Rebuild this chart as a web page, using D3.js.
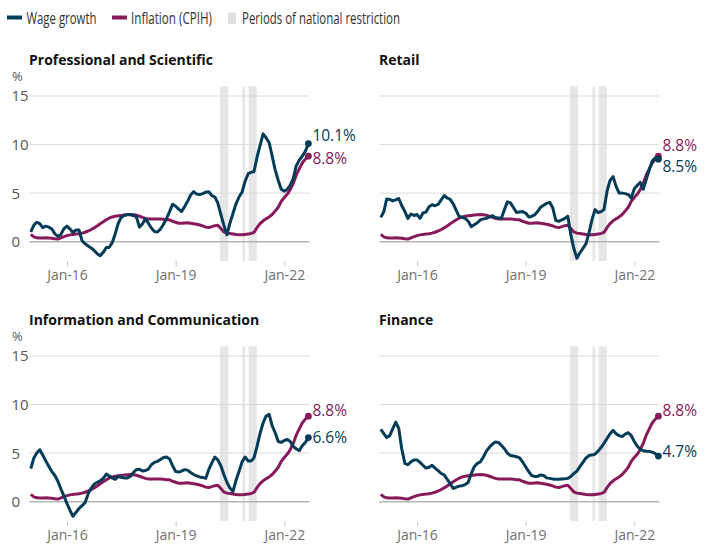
<!DOCTYPE html>
<html><head><meta charset="utf-8">
<script src="https://cdn.jsdelivr.net/npm/d3@7"></script>
<style>
body{margin:0;background:#fff;}
svg text{font-family:"Open Sans",sans-serif;}
</style></head><body>
<svg id="chart" width="726" height="560"></svg>
<script>
// ---------- data ----------
const firstMonth = "2015-01-01";
const lastMonth = "2022-09-01";
const inflation = [
  0.75,0.5,0.4,0.38,0.38,0.4,0.38,0.35,0.3,0.27,0.4,0.52,
  0.62,0.7,0.75,0.78,0.82,0.88,0.97,1.1,1.25,1.42,1.62,1.85,
  2.05,2.25,2.42,2.55,2.62,2.66,2.7,2.74,2.78,2.8,2.78,2.72,
  2.62,2.5,2.4,2.34,2.33,2.33,2.34,2.33,2.3,2.27,2.25,2.1,
  2.0,1.9,1.9,1.93,1.95,1.9,1.85,1.8,1.72,1.62,1.5,1.45,
  1.55,1.65,1.7,1.35,1.0,0.88,0.85,0.8,0.75,0.72,0.72,0.75,
  0.78,0.85,0.95,1.45,1.85,2.15,2.35,2.55,2.8,3.15,3.55,4.15,
  4.55,4.9,5.35,6.0,6.85,7.5,8.1,8.5,8.8];
const wageProfessional = [
  1.0,1.7,2.0,1.85,1.45,1.6,1.5,1.3,0.8,0.55,0.75,1.35,
  1.6,1.3,0.95,1.2,1.2,0.1,-0.2,-0.45,-0.65,-0.9,-1.25,-1.45,
  -1.1,-0.6,-0.6,-0.1,0.8,1.9,2.5,2.7,2.8,2.8,2.7,2.55,
  1.5,1.85,2.35,1.9,1.4,1.05,1.0,1.3,1.8,2.4,3.1,3.85,
  3.65,3.35,3.1,3.6,4.15,4.8,5.15,4.9,4.85,4.95,5.1,5.15,
  4.75,4.6,4.0,2.8,1.7,0.7,1.9,2.9,3.9,4.6,5.1,6.2,
  7.0,7.15,7.2,8.7,9.9,11.1,10.7,10.2,8.8,7.4,6.3,5.4,
  5.2,5.4,5.8,6.5,7.8,8.4,8.8,9.3,10.1];
const wageRetail = [
  2.5,3.1,4.4,4.35,4.2,4.3,4.45,3.7,3.1,2.4,2.85,2.7,
  2.8,2.4,2.95,3.05,3.6,3.8,3.7,3.85,4.3,4.75,4.5,4.35,
  3.9,3.2,2.6,2.5,2.4,2.1,1.55,1.75,1.95,2.25,2.35,2.4,
  2.55,2.68,2.5,2.45,2.4,3.3,4.1,4.0,3.5,3.0,3.05,3.1,
  2.95,2.55,2.6,2.75,3.1,3.55,3.75,3.95,4.05,3.5,2.2,2.1,
  2.25,2.4,2.62,0.7,-0.7,-1.7,-1.15,-0.7,-0.2,0.9,2.3,3.3,
  3.0,3.1,3.3,5.2,6.3,6.7,5.7,5.0,5.0,4.95,4.85,4.5,
  5.45,5.8,6.1,5.4,6.4,7.4,8.3,8.65,8.5];
const wageInformation = [
  3.4,4.5,5.0,5.35,4.8,4.2,3.65,3.1,2.7,2.1,1.3,0.6,
  -0.2,-0.9,-1.5,-1.1,-0.7,-0.4,-0.1,0.8,1.4,1.8,2.0,2.15,
  2.4,2.85,2.65,2.45,2.3,2.6,2.5,2.45,2.45,2.6,3.0,3.3,
  3.35,3.15,3.2,3.35,3.8,4.05,4.15,4.35,4.55,4.6,4.4,3.7,
  3.1,3.05,3.15,3.3,3.25,3.0,2.8,2.65,2.55,2.5,2.4,3.3,
  4.0,4.6,4.3,3.7,2.8,2.0,1.4,1.05,2.2,3.1,4.1,4.6,
  4.2,4.2,4.5,5.7,7.0,8.1,8.8,9.0,7.8,7.1,6.2,6.1,
  6.3,6.4,6.2,5.7,5.45,5.25,5.75,6.1,6.6];
const wageFinance = [
  7.45,7.0,6.6,6.8,7.5,8.2,7.55,5.4,3.95,3.8,4.1,4.3,
  4.3,4.05,3.75,3.45,3.55,3.75,3.45,3.2,2.9,2.75,2.3,1.85,
  1.35,1.5,1.6,1.65,1.75,2.0,2.9,3.6,3.95,4.1,4.6,5.2,
  5.6,5.95,6.15,6.1,5.8,5.45,5.0,4.75,4.7,4.63,4.5,4.1,
  3.6,3.1,2.7,2.6,2.6,2.75,2.7,2.45,2.4,2.33,2.3,2.3,
  2.33,2.35,2.4,2.6,2.9,3.15,3.6,4.05,4.5,4.75,4.8,4.9,
  5.2,5.6,6.0,6.5,7.0,7.35,7.0,6.8,6.7,6.95,7.1,6.8,
  6.2,5.7,5.4,5.25,5.2,5.18,5.1,4.95,4.7];
const panelTitles = ["Professional and Scientific","Retail","Information and Communication","Finance"];
const wageEndLabels = ["10.1%","8.5%","6.6%","4.7%"];
const inflationEndLabel = "8.8%";
const restrictionStarts = ["2020-03-23","2020-11-05","2021-01-06"];
const restrictionEnds = ["2020-06-15","2020-12-02","2021-03-29"];
const yTickValues = [0,5,10,15];
const xTickDates = ["2016-01-01","2019-01-01","2022-01-01"];
const legendLabels = ["Wage growth","Inflation (CPIH)","Periods of national restriction"];

// ---------- layout / style ----------
const C_WAGE = "#003c57", C_INF = "#871a5b", C_BAND = "#e6e6e6";
const panelOffsets = [[0,0],[350,0],[0,260],[350,260]];
// label vertical offsets (px, relative to end dot): [wage, inflation]
const labelShift = [[-8.5,2.5],[7,-11],[0,-6],[-4.6,-6]];

const wageSeries = [wageProfessional, wageRetail, wageInformation, wageFinance];
const parse = d3.utcParse("%Y-%m-%d");
const months = d3.utcMonth.range(parse(firstMonth), d3.utcMonth.offset(parse(lastMonth),1));

const x = d3.scaleUtc().domain([parse(firstMonth), parse(lastMonth)]).range([30.8, 308.4]);
const y = d3.scaleLinear().domain([-2,16]).range([261.1, 86.3]);

const svg = d3.select("#chart");

// legend
const lg = svg.append("g");
lg.append("line").attr("x1",7).attr("x2",22).attr("y1",17.5).attr("y2",17.5).attr("stroke",C_WAGE).attr("stroke-width",4);
lg.append("line").attr("x1",112).attr("x2",127).attr("y1",17.5).attr("y2",17.5).attr("stroke",C_INF).attr("stroke-width",4);
lg.append("rect").attr("x",228).attr("y",12.5).attr("width",8).attr("height",11.5).attr("fill","#e0e0e0");
const legendPos = [[26.5,70],[131,81],[242,158]];
legendLabels.forEach((t,i)=>{
  const el = lg.append("text").attr("x",legendPos[i][0]).attr("y",23.8)
    .attr("font-size",16).attr("fill","#333").text(t);
  const w = el.node().getComputedTextLength();
  if (Math.abs(w - legendPos[i][1]) > 2) el.attr("textLength",legendPos[i][1]).attr("lengthAdjust","spacingAndGlyphs");
});

const line = d3.line().x((d,i)=>x(months[i])).y(d=>y(d));
const last = months.length-1;

panelOffsets.forEach(([dx,dy],p)=>{
  const g = svg.append("g").attr("transform",`translate(${dx},${dy})`);
  g.append("text").attr("x",29).attr("y",65).attr("font-size",14).attr("font-weight",700)
    .attr("fill","#111").text(panelTitles[p]);
  // bands
  g.selectAll("rect.band").data(restrictionStarts).join("rect").attr("class","band")
    .attr("x",(d)=>x(parse(d))).attr("width",(d,i)=>x(parse(restrictionEnds[i]))-x(parse(d)))
    .attr("y",y(16)).attr("height",y(-2)-y(16)).attr("fill",C_BAND);
  // grid
  g.selectAll("line.grid").data(yTickValues).join("line").attr("class","grid")
    .attr("x1",x.range()[0]-1.5).attr("x2",x.range()[1]+1)
    .attr("y1",d=>y(d)).attr("y2",d=>y(d))
    .attr("stroke",d=>d===0?"#b5b5b5":"#dadada").attr("stroke-width",d=>d===0?1.5:1);
  if (dx===0){
    g.selectAll("text.yl").data(yTickValues).join("text").attr("class","yl")
      .attr("x",11.5).attr("y",d=>y(d)).attr("dy","0.36em").attr("font-size",15)
      .attr("fill","#555").text(d=>d);
    g.append("text").attr("x",12).attr("y",76.7).attr("dy","0.36em").attr("font-size",13)
      .attr("fill","#555").text("%");
  }
  // x axis
  const ax = g.append("g").attr("transform",`translate(0,${y(-2)})`)
    .call(d3.axisBottom(x).tickValues(xTickDates.map(parse)).tickFormat(d3.utcFormat("%b-%y")).tickSize(5).tickPadding(4));
  ax.select(".domain").remove();
  ax.selectAll("line").attr("stroke","#c8c8c8");
  ax.selectAll("text").attr("font-size",14).attr("fill","#707070").attr("font-family","Open Sans, sans-serif");
  // lines
  g.append("path").datum(inflation).attr("d",line).attr("fill","none").attr("stroke",C_INF)
    .attr("stroke-width",3).attr("stroke-linejoin","round");
  g.append("path").datum(wageSeries[p]).attr("d",line).attr("fill","none").attr("stroke",C_WAGE)
    .attr("stroke-width",3).attr("stroke-linejoin","round");
  // end dots
  const ex = x(months[last]);
  g.append("circle").attr("cx",ex).attr("cy",y(inflation[last])).attr("r",3.4).attr("fill",C_INF);
  g.append("circle").attr("cx",ex).attr("cy",y(wageSeries[p][last])).attr("r",3.4).attr("fill",C_WAGE);
  g.append("text").attr("x",ex+4).attr("y",y(wageSeries[p][last])+labelShift[p][0]).attr("dy","0.36em")
    .attr("font-size",15.5).attr("fill",C_WAGE).text(wageEndLabels[p]);
  g.append("text").attr("x",ex+4).attr("y",y(inflation[last])+labelShift[p][1]).attr("dy","0.36em")
    .attr("font-size",15.5).attr("fill",C_INF).text(inflationEndLabel);
});
</script>
</body></html>
